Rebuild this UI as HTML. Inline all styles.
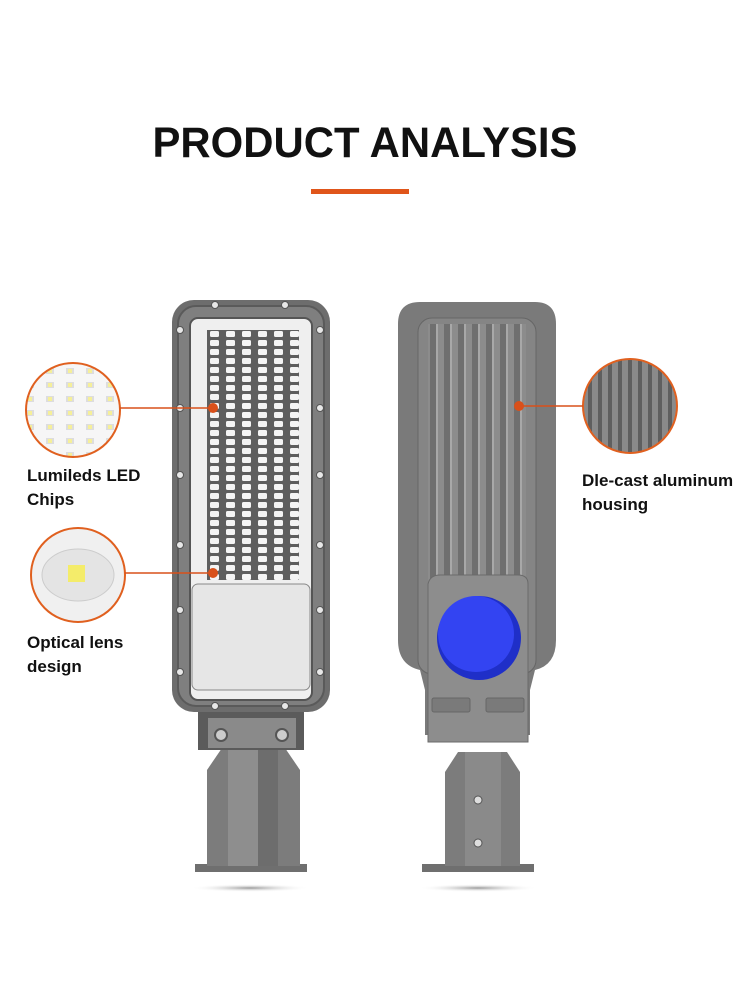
<!DOCTYPE html>
<html><head><meta charset="utf-8"><style>
html,body{margin:0;padding:0;background:#fff;}
svg{display:block;}
text{font-family:"Liberation Sans","DejaVu Sans",sans-serif;font-weight:bold;fill:#111;}
</style></head><body>
<svg width="750" height="1000" viewBox="0 0 750 1000" xmlns="http://www.w3.org/2000/svg">
<defs>
<radialGradient id="sh" cx="50%" cy="50%" r="50%"><stop offset="0" stop-color="#999"/><stop offset="1" stop-color="#fff" stop-opacity="0"/></radialGradient>
<pattern id="led" x="207" y="330" width="16" height="9" patternUnits="userSpaceOnUse">
<rect width="16" height="9" fill="#5e5e5e"/><rect x="3" y="1" width="9" height="6" rx="1.5" fill="#f4f4f4"/></pattern>
<pattern id="ledc" x="0" y="0" width="20" height="14" patternUnits="userSpaceOnUse">
<rect width="20" height="14" fill="#f6f6f6"/><rect x="6" y="4" width="8" height="6" fill="#ddd"/><rect x="8" y="5" width="4" height="4" fill="#f5ef9a"/></pattern>
<pattern id="fin" x="428" y="0" width="14" height="10" patternUnits="userSpaceOnUse">
<rect width="14" height="10" fill="#8c8c8c"/><rect x="2" width="6" height="10" fill="#6f6f6f"/><rect x="8" width="2" height="10" fill="#a8a8a8"/></pattern>
<clipPath id="c3"><circle cx="630" cy="406" r="47"/></clipPath>
</defs>

<text x="365" y="157" font-size="43" text-anchor="middle" textLength="425" lengthAdjust="spacingAndGlyphs">PRODUCT ANALYSIS</text>
<rect x="311" y="189" width="98" height="5" fill="#e0551a"/>

<!-- left lamp -->
<ellipse cx="250" cy="888" rx="60" ry="4" fill="url(#sh)"/>
<rect x="195" y="864" width="112" height="8" fill="#6f6f6f"/>
<path d="M207 770 L222 748 L285 748 L300 770 L300 866 L207 866 Z" fill="#7c7c7c"/>
<rect x="228" y="750" width="50" height="116" fill="#8e8e8e"/>
<rect x="258" y="750" width="20" height="116" fill="#6d6d6d"/>
<rect x="198" y="705" width="106" height="45" fill="#5b5b5b"/>
<rect x="208" y="718" width="88" height="30" fill="#8a8a8a"/>
<circle cx="221" cy="735" r="6" fill="#ccc" stroke="#555" stroke-width="2"/>
<circle cx="282" cy="735" r="6" fill="#ccc" stroke="#555" stroke-width="2"/>
<rect x="172" y="300" width="158" height="412" rx="22" fill="#6d6d6d"/>
<rect x="178" y="306" width="146" height="400" rx="18" fill="#7f7f7f" stroke="#5a5a5a" stroke-width="2"/>
<rect x="190" y="318" width="122" height="382" rx="8" fill="#efefef" stroke="#555" stroke-width="2"/>
<rect x="207" y="330" width="92" height="250" fill="url(#led)"/>
<rect x="192" y="584" width="118" height="106" rx="6" fill="#e6e6e6" stroke="#888"/>
<g fill="#e8e8e8" stroke="#555" stroke-width="1">
<circle cx="215" cy="305" r="3.5"/><circle cx="285" cy="305" r="3.5"/>
<circle cx="180" cy="330" r="3.5"/><circle cx="320" cy="330" r="3.5"/>
<circle cx="180" cy="408" r="3.5"/><circle cx="320" cy="408" r="3.5"/>
<circle cx="180" cy="475" r="3.5"/><circle cx="320" cy="475" r="3.5"/>
<circle cx="180" cy="545" r="3.5"/><circle cx="320" cy="545" r="3.5"/>
<circle cx="180" cy="610" r="3.5"/><circle cx="320" cy="610" r="3.5"/>
<circle cx="180" cy="672" r="3.5"/><circle cx="320" cy="672" r="3.5"/>
<circle cx="215" cy="706" r="3.5"/><circle cx="285" cy="706" r="3.5"/>
</g>

<!-- right lamp -->
<ellipse cx="478" cy="888" rx="60" ry="4" fill="url(#sh)"/>
<rect x="422" y="864" width="112" height="8" fill="#6f6f6f"/>
<path d="M445 772 L458 752 L507 752 L520 772 L520 866 L445 866 Z" fill="#7c7c7c"/>
<rect x="465" y="752" width="36" height="114" fill="#8a8a8a"/>
<circle cx="478" cy="800" r="4" fill="#ddd" stroke="#555"/>
<circle cx="478" cy="843" r="4" fill="#ddd" stroke="#555"/>
<path d="M420 302 H535 Q556 302 556 324 V640 Q556 665 535 670 L530 690 L530 735 L425 735 L425 690 L420 670 Q398 665 398 640 V324 Q398 302 420 302 Z" fill="#7a7a7a"/>
<rect x="418" y="318" width="118" height="356" rx="14" fill="#858585" stroke="#666"/>
<rect x="428" y="324" width="98" height="258" fill="url(#fin)"/>
<path d="M428 584 Q430 575 440 575 H518 Q528 575 528 584 V742 H428 Z" fill="#8d8d8d" stroke="#6a6a6a"/>
<circle cx="479" cy="638" r="42" fill="#1f2fc8"/>
<circle cx="476" cy="634" r="38" fill="#3344f2"/>
<rect x="432" y="698" width="38" height="14" rx="2" fill="#7a7a7a" stroke="#666"/>
<rect x="486" y="698" width="38" height="14" rx="2" fill="#7a7a7a" stroke="#666"/>

<!-- callout circles -->
<circle cx="73" cy="410" r="47" fill="url(#ledc)"/>
<circle cx="73" cy="410" r="47" fill="none" stroke="#e0601f" stroke-width="2"/>
<circle cx="78" cy="575" r="47" fill="#f0f0f0"/>
<ellipse cx="78" cy="575" rx="36" ry="26" fill="#e4e4e4" stroke="#ccc"/>
<rect x="68" y="565" width="17" height="17" fill="#f4ec6a"/>
<circle cx="78" cy="575" r="47" fill="none" stroke="#e0601f" stroke-width="2"/>
<g clip-path="url(#c3)"><rect x="583" y="359" width="94" height="94" fill="#8a8a8a"/>
<g fill="#5f5f5f"><rect x="588" y="359" width="4" height="94"/><rect x="598" y="359" width="4" height="94"/><rect x="608" y="359" width="4" height="94"/><rect x="618" y="359" width="4" height="94"/><rect x="628" y="359" width="4" height="94"/><rect x="638" y="359" width="4" height="94"/><rect x="648" y="359" width="4" height="94"/><rect x="658" y="359" width="4" height="94"/><rect x="668" y="359" width="4" height="94"/></g></g>
<circle cx="630" cy="406" r="47" fill="none" stroke="#e0601f" stroke-width="2"/>

<g stroke="#d9501a" stroke-width="1.5">
<line x1="120" y1="408" x2="212" y2="408"/>
<line x1="125" y1="573" x2="212" y2="573"/>
<line x1="520" y1="406" x2="583" y2="406"/>
</g>
<g fill="#d9501a"><circle cx="213" cy="408" r="5"/><circle cx="213" cy="573" r="5"/><circle cx="519" cy="406" r="5"/></g>

<text x="27" y="481" font-size="17">Lumileds LED</text>
<text x="27" y="505" font-size="17">Chips</text>
<text x="27" y="648" font-size="17">Optical lens</text>
<text x="27" y="672" font-size="17">design</text>
<text x="582" y="486" font-size="17">Dle-cast aluminum</text>
<text x="582" y="510" font-size="17">housing</text>
</svg>
</body></html>
